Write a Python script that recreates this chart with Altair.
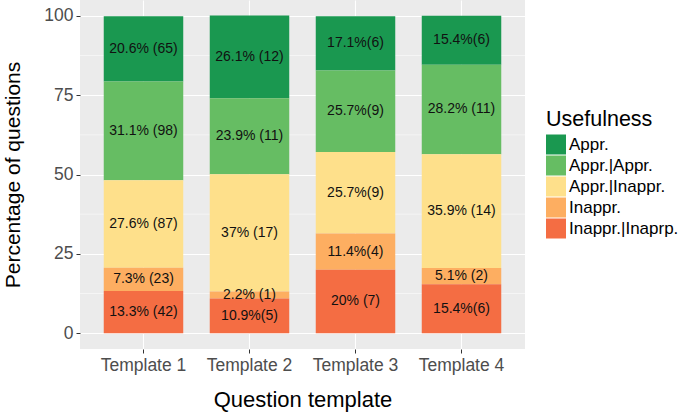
import altair as alt
import pandas as pd

templates = ["Template 1", "Template 2", "Template 3", "Template 4"]
categories = ["Appr.", "Appr.|Appr.", "Appr.|Inappr.", "Inappr.", "Inappr.|Inaprp."]
colors = ["#1a9850", "#66bd63", "#fee08b", "#fdae61", "#f46d43"]

t1_pct = [20.6, 31.1, 27.6, 7.3, 13.3]
t2_pct = [26.1, 23.9, 37.0, 2.2, 10.9]
t3_pct = [17.1, 25.7, 25.7, 11.4, 20.0]
t4_pct = [15.4, 28.2, 35.9, 5.1, 15.4]

t1_lab = ["20.6% (65)", "31.1% (98)", "27.6% (87)", "7.3% (23)", "13.3% (42)"]
t2_lab = ["26.1% (12)", "23.9% (11)", "37%  (17)", "2.2% (1)", "10.9%(5)"]
t3_lab = ["17.1%(6)", "25.7%(9)", "25.7%(9)", "11.4%(4)", "20% (7)"]
t4_lab = ["15.4%(6)", "28.2% (11)", "35.9% (14)", "5.1% (2)", "15.4%(6)"]

y_ticks = [0, 25, 50, 75, 100]
minor_ticks = [12.5, 37.5, 62.5, 87.5]

rows = []
for t, pcts, labs in zip(templates, [t1_pct, t2_pct, t3_pct, t4_pct],
                         [t1_lab, t2_lab, t3_lab, t4_lab]):
    for i, (c, p, l) in enumerate(zip(categories, pcts, labs)):
        rows.append({"template": t, "usefulness": c, "pct": p, "label": l,
                     "ord": len(categories) - i})
df = pd.DataFrame(rows)
minor_df = pd.DataFrame({"v": minor_ticks})

FONT = "Liberation Sans"

yscale = alt.Scale(domain=[-5, 105], nice=False, zero=False)
xscale = alt.Scale(domain=templates, paddingInner=0.25, paddingOuter=0.224)

minor = alt.Chart(minor_df).mark_rule(color="white", strokeWidth=0.5).encode(
    y=alt.Y("v:Q", scale=yscale)
)

base = alt.Chart(df).transform_stack(
    stack="pct", groupby=["template"], sort=[alt.SortField("ord", order="ascending")],
    as_=["y0", "y1"]
).transform_calculate(mid="(datum.y0 + datum.y1) / 2")

bars = base.mark_bar(stroke=None).encode(
    x=alt.X("template:N", scale=xscale, sort=templates,
            axis=alt.Axis(title="Question template", labelAngle=0, grid=True,
                          bandPosition=0.5)),
    y=alt.Y("y0:Q", scale=yscale,
            axis=alt.Axis(title="Percentage of questions", values=y_ticks, grid=True,
                          titleFontSize=21, titlePadding=20)),
    y2="y1:Q",
    color=alt.Color("usefulness:N",
                    scale=alt.Scale(domain=categories, range=colors),
                    legend=alt.Legend(title="Usefulness", orient="none",
                                      legendX=466, legendY=109,
                                      symbolType="square", symbolSize=400,
                                      symbolStrokeWidth=0, symbolOpacity=1,
                                      labelFontSize=17, titleFontSize=21.5,
                                      titleFontWeight="normal", rowPadding=1,
                                      titlePadding=4, labelOffset=3,
                                      labelFont=FONT, titleFont=FONT,
                                      labelColor="#000000", titleColor="#000000")),
)

text = base.mark_text(fontSize=14, font=FONT, color="#111111", baseline="middle").encode(
    x=alt.X("template:N", scale=xscale, sort=templates),
    y=alt.Y("mid:Q", scale=yscale),
    text="label:N",
)

chart = alt.layer(minor, bars, text).properties(
    width=445, height=349,
    padding={"left": 80, "top": 0, "right": 160, "bottom": 68},
    autosize=alt.AutoSizeParams(type="none"),
).configure_view(
    fill="#ebebeb", stroke=None
).configure_axis(
    domain=False, gridColor="white", gridWidth=1.1,
    tickColor="#333333", tickSize=4, tickWidth=1,
    labelFont=FONT, titleFont=FONT, labelFontSize=17.5, labelColor="#4d4d4d",
    titleFontSize=22, titleFontWeight="normal", titleColor="#000000",
    labelPadding=3,
).configure_axisX(
    titlePadding=16
)

chart.save("out.html", embed_options={"renderer": "svg", "actions": False})
